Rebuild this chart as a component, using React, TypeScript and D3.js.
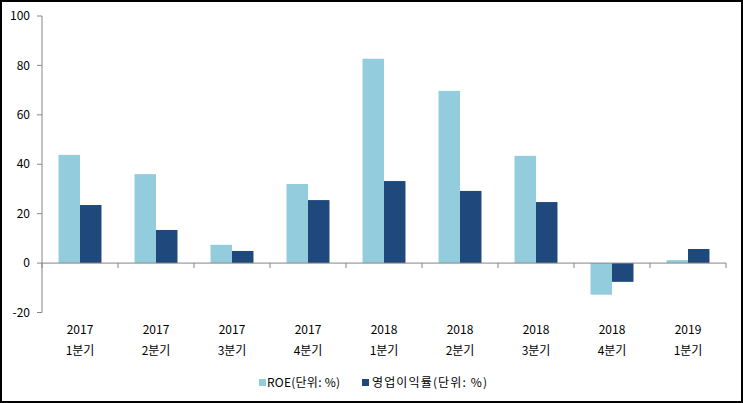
import * as d3 from 'd3';

const years = ['2017', '2017', '2017', '2017', '2018', '2018', '2018', '2018', '2019'];
const quarters = ['1분기', '2분기', '3분기', '4분기', '1분기', '2분기', '3분기', '4분기', '1분기'];
const roe = [43.8, 36.0, 7.4, 32.0, 82.7, 69.7, 43.4, -12.8, 1.2];
const opMargin = [23.5, 13.4, 4.9, 25.5, 33.2, 29.2, 24.7, -7.6, 5.7];
const seriesNames = ['ROE(단위: %)', '영업이익률(단위: %)'];
const yTicks = [-20, 0, 20, 40, 60, 80, 100];

const colors = ['#93CDDD', '#1F497D'];
const W = 743;
const H = 403;
const font = '"Noto Sans CJK KR", "Noto Sans", sans-serif';

export default function App() {
  const keys = years.map((_, i) => String(i));
  const x = d3.scaleBand<string>().domain(keys).range([42, 726]).paddingInner(0).paddingOuter(0);
  const xSub = d3.scaleBand<string>().domain(['0', '1']).range([0, x.bandwidth()]).paddingInner(0).paddingOuter(0.77);
  const y = d3.scaleLinear().domain([-20, 100]).range([312.5, 16]);
  const y0 = y(0);
  const series = [roe, opMargin];

  // legend placement
  const legendX = [259, 362];
  const legendTextLen = [73, 115];

  return (
    <svg width={W} height={H} style={{ position: 'absolute', left: 0, top: 0, background: '#fff' }} fontFamily={font}>
      <rect x={1} y={1} width={W - 2} height={H - 2} fill="#fff" stroke="#000" strokeWidth={2} />

      {/* bars */}
      {series.map((vals, s) =>
        vals.map((v, i) => (
          <rect
            key={`${s}-${i}`}
            x={(x(keys[i]) ?? 0) + (xSub(String(s)) ?? 0)}
            y={Math.min(y(v), y0)}
            width={xSub.bandwidth()}
            height={Math.abs(y(v) - y0)}
            fill={colors[s]}
          />
        ))
      )}

      {/* y axis */}
      <line x1={42} x2={42} y1={y(100)} y2={y(-20)} stroke="#868686" strokeWidth={1} />
      {yTicks.map((t) => (
        <g key={t}>
          <line x1={37} x2={42} y1={y(t)} y2={y(t)} stroke="#868686" />
          <text x={30} y={y(t)} dy="0.35em" textAnchor="end" fontSize={12} fill="#000">
            {t}
          </text>
        </g>
      ))}

      {/* x axis at zero */}
      <line x1={42} x2={726} y1={y0} y2={y0} stroke="#868686" strokeWidth={1} />
      {[...keys.map((k) => x(k) ?? 0), 726].map((px, i) => (
        <line key={i} x1={px} x2={px} y1={y0} y2={y0 + 5} stroke="#868686" />
      ))}
      {keys.map((k, i) => (
        <g key={k}>
          <text x={(x(k) ?? 0) + x.bandwidth() / 2} y={334} textAnchor="middle" fontSize={12} fill="#000">
            {years[i]}
          </text>
          <text x={(x(k) ?? 0) + x.bandwidth() / 2} y={355} textAnchor="middle" fontSize={12} fill="#000">
            {quarters[i]}
          </text>
        </g>
      ))}

      {/* legend */}
      {seriesNames.map((name, s) => (
        <g key={name}>
          <rect x={legendX[s]} y={379} width={7} height={7} fill={colors[s]} />
          <text
            x={legendX[s] + (s === 0 ? 8 : 10)}
            y={387}
            fontSize={12}
            fill="#000"
            textLength={legendTextLen[s]}
            lengthAdjust="spacing"
          >
            {name}
          </text>
        </g>
      ))}
    </svg>
  );
}
